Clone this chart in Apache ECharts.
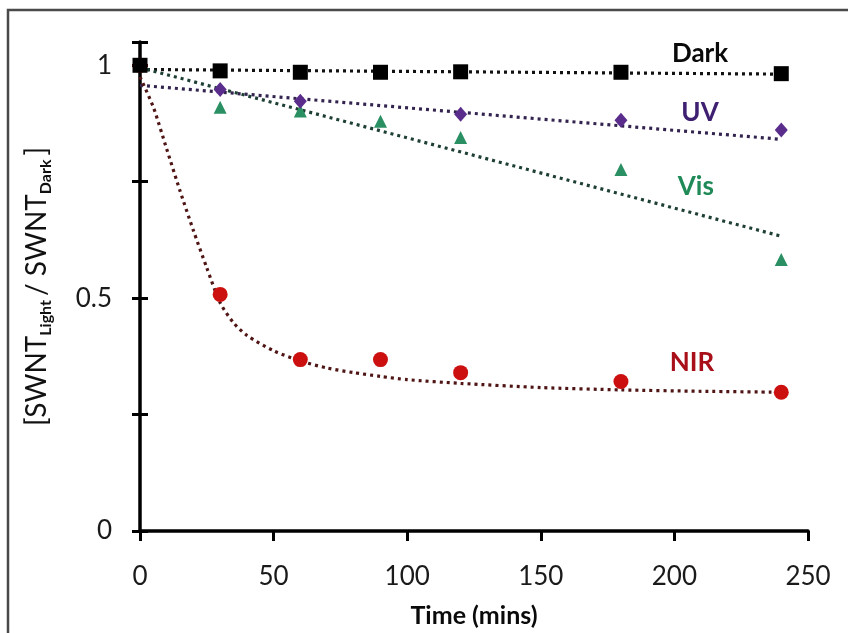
<!DOCTYPE html>
<html>
<head>
<meta charset="utf-8">
<script src="https://cdn.jsdelivr.net/npm/echarts@6/dist/echarts.min.js"></script>
<style>html,body{margin:0;padding:0;background:#fff}#c{width:848px;height:633px}</style>
</head>
<body>
<div id="c"></div>
<script>
// ---- data ----
var time = [0, 30, 60, 90, 120, 180, 240];
var dark = [1, 0.988, 0.985, 0.985, 0.986, 0.985, 0.982];
var uv   = [1, 0.948, 0.923, null, 0.895, 0.882, 0.861];
var vis  = [1, 0.910, 0.902, 0.880, 0.845, 0.776, 0.583];
var nir  = [1, 0.508, 0.368, 0.368, 0.340, 0.321, 0.298];

// trend lines
var darkTrendX = [0, 240];
var darkTrendY = [0.991, 0.981];
var uvTrendX = [0, 240];
var uvTrendY = [0.957, 0.841];
var visTrendX = [0, 240];
var visTrendY = [0.995, 0.633];
var nirTrendX = [0, 5, 10, 15, 20, 25, 30, 35, 40, 50, 60, 70, 80, 90, 100, 120, 150, 180, 210, 240];
var nirTrendY = [0.975, 0.91, 0.82, 0.73, 0.645, 0.565, 0.49, 0.447, 0.42, 0.387, 0.365, 0.35, 0.34, 0.332, 0.325, 0.317, 0.308, 0.303, 0.300, 0.298];

var seriesNames = ['Dark', 'UV', 'Vis', 'NIR'];
var labelAt = [[209.6, 1.026], [209.6, 0.899], [208, 0.74], [206.6, 0.361]];

var xTicks = [0, 50, 100, 150, 200, 250];
var yLabelTicks = [0, 0.5, 1];

function pairs(xs, ys) {
  var out = [];
  for (var i = 0; i < xs.length; i++) if (ys[i] !== null) out.push([xs[i], ys[i]]);
  return out;
}

var FONT = 'Lato, "Open Sans", sans-serif';
var markerCol = ['#000000', '#5a2d8c', '#2a8f62', '#cc1010'];
var trendCol = ['#111111', '#33244f', '#1e3f33', '#4f1414'];
var labelCol = ['#0a0a0a', '#3f2070', '#1f8a58', '#a80f18'];
var symbols = ['rect', 'diamond', 'triangle', 'circle'];
var symSizes = [[15, 15], [13, 15], [13, 13], [15, 15]];
var values = [dark, uv, vis, nir];
var trends = [[darkTrendX, darkTrendY], [uvTrendX, uvTrendY], [visTrendX, visTrendY], [nirTrendX, nirTrendY]];

var series = [];
for (var k = 0; k < 4; k++) {
  series.push({
    type: 'line', name: seriesNames[k] + ' trend',
    data: pairs(trends[k][0], trends[k][1]),
    showSymbol: false, symbol: 'none', smooth: k === 3 ? 0.25 : false,
    lineStyle: { color: trendCol[k], width: 3.2, type: [3, 4] },
    z: 2, silent: true
  });
}
for (var k = 3; k >= 0; k--) {
  series.push({
    type: 'scatter', name: seriesNames[k],
    data: pairs(time, values[k]),
    symbol: symbols[k], symbolSize: symSizes[k],
    itemStyle: { color: markerCol[k], opacity: 1 },
    z: 5
  });
}
series.push({
  type: 'scatter', name: 'labels',
  data: labelAt.map(function (p, i) { return { value: p, name: seriesNames[i],
    label: { color: labelCol[i] } }; }),
  symbolSize: 1, silent: true,
  itemStyle: { opacity: 1, color: 'rgba(0,0,0,0)' },
  label: { show: true, position: 'inside', formatter: '{b}', fontFamily: FONT,
    fontWeight: 'bold', fontSize: 26, opacity: 1, textBorderWidth: 0 },
  z: 6
});

var chart = echarts.init(document.getElementById('c'), null, { renderer: 'canvas' });
chart.setOption({
  backgroundColor: '#ffffff',
  animation: false,
  graphic: [{
    type: 'rect', shape: { x: 8, y: 10, width: 900, height: 700 },
    style: { fill: 'none', stroke: '#4a4a4a', lineWidth: 2.5 }, z: 0
  }],
  grid: { left: 140, right: 40, top: 42, bottom: 102, containLabel: false, outerBoundsMode: 'none' },
  xAxis: {
    type: 'value', min: 0, max: 250, interval: 50,
    axisLine: { show: true, lineStyle: { color: '#000', width: 3.5 } },
    axisTick: { show: true, length: 10, lineStyle: { color: '#000', width: 3 } },
    splitLine: { show: false },
    axisLabel: { margin: 33, fontSize: 26, color: '#1a1a1a', fontFamily: FONT },
    name: 'Time (mins)', nameLocation: 'middle', nameGap: 72,
    nameTextStyle: { fontSize: 25, fontWeight: 'bold', color: '#0a0a0a', fontFamily: FONT }
  },
  yAxis: [{
    type: 'value', min: 0, max: 1.05, interval: 0.25,
    axisLine: { show: true, onZero: false, lineStyle: { color: '#000', width: 3.5 } },
    axisTick: { show: true, length: 8, lineStyle: { color: '#000', width: 3 } },
    splitLine: { show: false },
    axisLabel: { margin: 28, fontSize: 26, color: '#1a1a1a', fontFamily: FONT,
      formatter: function (v) { return yLabelTicks.indexOf(v) >= 0 ? String(v) : ''; } },
    name: '{m|[SWNT}{s|Light}{m|/ SWNT}{s|Dark}{m|]}',
    nameLocation: 'middle', nameRotate: 90, nameGap: 86,
    nameTextStyle: {
      rich: {
        m: { fontSize: 28, color: '#111', fontFamily: FONT },
        s: { fontSize: 16, color: '#111', fontFamily: FONT, fontWeight: 'bold', padding: [18, 4, 0, 0] }
      }
    }
  }, {
    type: 'value', min: 0, max: 1.05, interval: 0.25, position: 'left',
    axisLine: { show: false },
    axisTick: { show: true, inside: true, length: 8, lineStyle: { color: '#000', width: 3 } },
    axisLabel: { show: false }, splitLine: { show: false }
  }],
  series: series
});
</script>
</body>
</html>
